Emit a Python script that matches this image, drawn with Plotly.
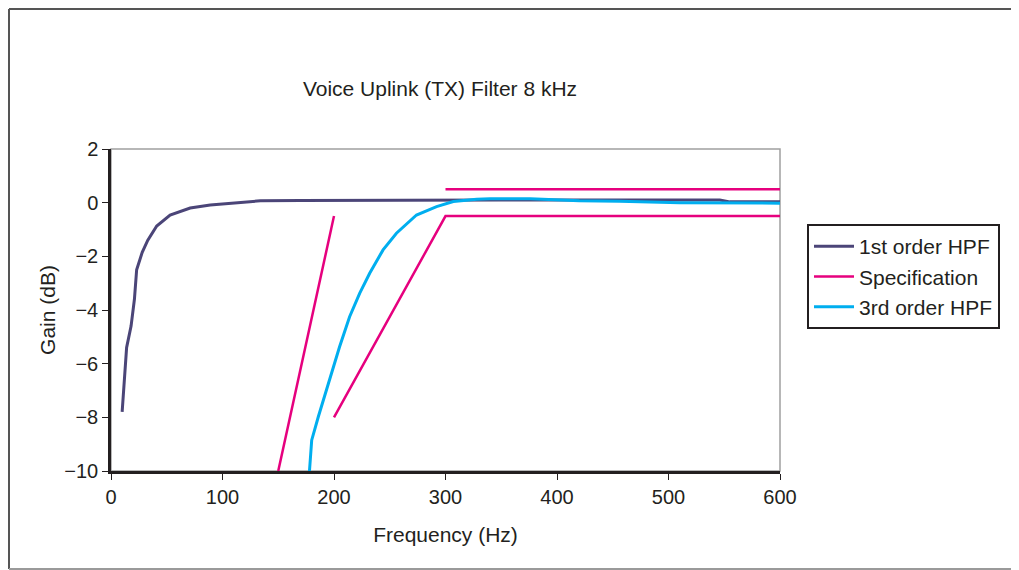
import plotly.graph_objects as go

# 1st order HPF (Hz, dB)
f1 = [10, 14, 18, 21, 23, 28, 33, 41, 53, 71, 89, 116, 134, 170, 250, 350, 450, 546, 555, 600]
g1 = [-7.8, -5.4, -4.6, -3.6, -2.5, -1.85, -1.4, -0.87, -0.46, -0.2, -0.09, 0.0, 0.07, 0.08, 0.1, 0.1, 0.1, 0.1, 0.03, 0.03]

# 3rd order HPF
f3 = [178, 180, 186, 195, 205, 214, 223, 232, 244, 256, 274, 292, 307, 328, 340, 376, 420, 456, 510, 600]
g3 = [-10, -8.85, -7.97, -6.73, -5.37, -4.25, -3.38, -2.63, -1.76, -1.14, -0.46, -0.15, 0.04, 0.13, 0.15, 0.15, 0.07, 0.05, 0.0, -0.02]

# Specification mask segments
fs = [150, 200, None, 200, 300, 600, None, 300, 600]
gs = [-10, -0.5, None, -8, -0.5, -0.5, None, 0.5, 0.5]

PURPLE, MAGENTA, CYAN = "#4b4578", "#e6007e", "#00aeef"
FONT = "Liberation Sans, Arial, sans-serif"
INK = "#231f20"

fig = go.Figure()
fig.add_trace(go.Scatter(x=f1, y=g1, mode="lines", name="1st order HPF",
                         line=dict(color=PURPLE, width=3)))
fig.add_trace(go.Scatter(x=fs, y=gs, mode="lines", name="Specification",
                         line=dict(color=MAGENTA, width=2.5), connectgaps=False))
fig.add_trace(go.Scatter(x=f3, y=g3, mode="lines", name="3rd order HPF",
                         line=dict(color=CYAN, width=3)))

# page body has an 8px margin, so work in page pixels minus 8
OFF = 8
L, R, T, B = 111 - OFF, 780 - OFF, 149 - OFF, 471 - OFF
W, H = 1019 - OFF, 570 - OFF
pw, ph = R - L, B - T


def px(x):
    return (x - OFF - L) / pw


def py(y):
    return (B - (y - OFF)) / ph


def frame_line(x0, y0, x1, y1, color):
    return dict(type="line", xref="paper", yref="paper", x0=px(x0), x1=px(x1),
                y0=py(y0), y1=py(y1), line=dict(color=color, width=2), layer="below")


fig.update_layout(
    width=W, height=H,
    margin=dict(l=L, r=W - R, t=T, b=H - B, pad=0, autoexpand=False),
    paper_bgcolor="white", plot_bgcolor="white",
    font=dict(family=FONT, size=20, color=INK),
    title=dict(text="Voice Uplink (TX) Filter 8 kHz", x=px(440), xref="paper",
               y=1 - (89 - OFF) / H, yanchor="middle", xanchor="center",
               font=dict(size=21, color=INK)),
    showlegend=True,
    legend=dict(x=px(807), y=py(224), xanchor="left", yanchor="top",
                bordercolor=INK, borderwidth=2, bgcolor="white",
                font=dict(size=21, color=INK), itemwidth=40),
    shapes=[
        dict(type="rect", xref="paper", yref="paper", x0=0, x1=1, y0=0, y1=1,
             line=dict(color="#a0a0a0", width=1.5), layer="below"),
        frame_line(9, 9, 1030, 9, "#555555"),
        frame_line(9, 9, 9, 569, "#555555"),
        frame_line(9, 569, 1030, 569, "#9a9a9a"),
    ],
)
fig.update_xaxes(range=[0, 600], dtick=100, tick0=0, showgrid=False, zeroline=False,
                 showline=True, linecolor=INK, linewidth=2.5,
                 ticks="outside", ticklen=6, tickcolor=INK, tickfont=dict(size=20),
                 title=dict(text="Frequency (Hz)", standoff=21, font=dict(size=21)))
fig.update_yaxes(range=[-10, 2], dtick=2, tick0=0, showgrid=False, zeroline=False,
                 showline=True, linecolor=INK, linewidth=2.5,
                 ticks="outside", ticklen=6, tickcolor=INK, tickfont=dict(size=20),
                 title=dict(text="Gain (dB)", standoff=3, font=dict(size=21)))

fig.write_html("out.html")
